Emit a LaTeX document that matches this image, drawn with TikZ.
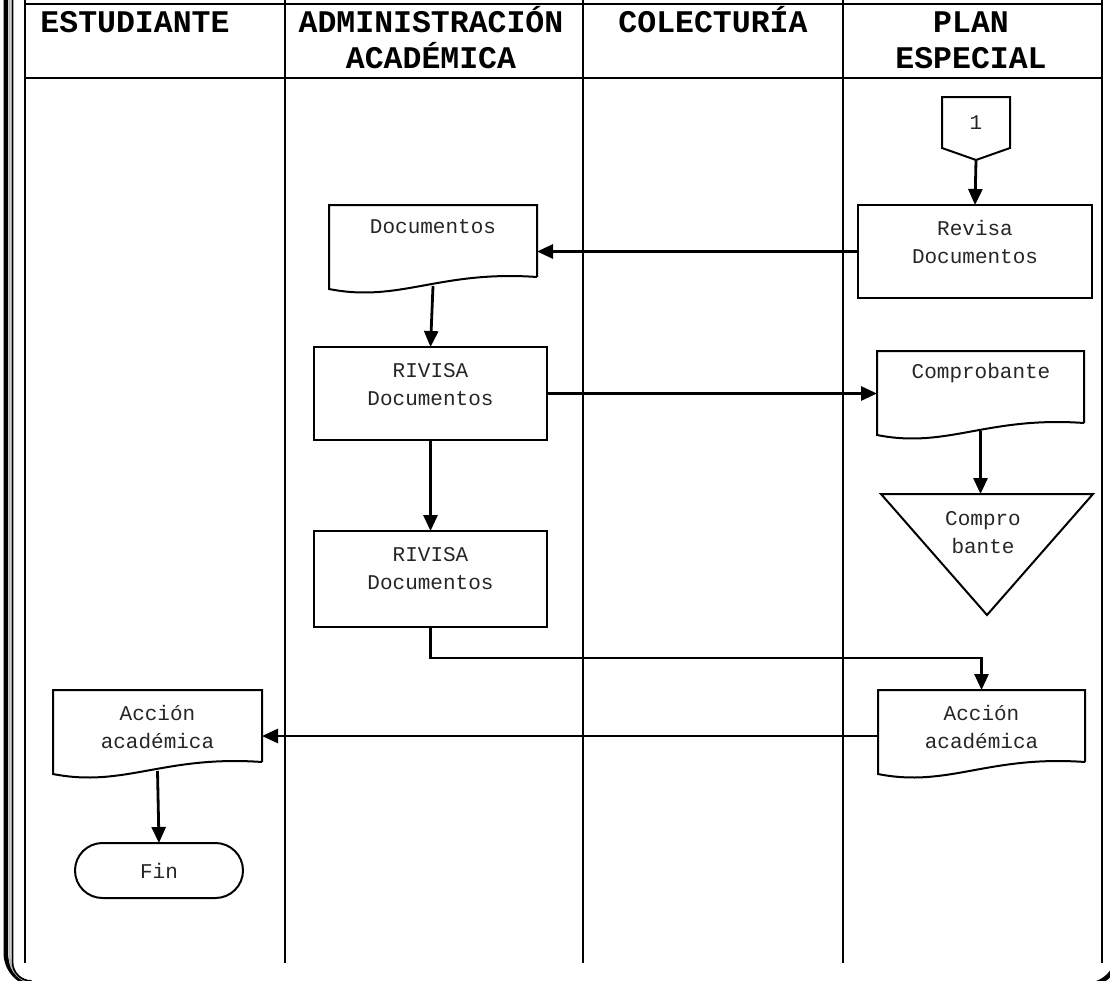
\documentclass[tikz,border=0pt]{standalone}
\usepackage{fontspec}
\newfontfamily\monofont{Liberation Mono}
\usetikzlibrary{arrows.meta,calc}

% centred lines whose baseline is that of the first line
\newcommand\stacklines[1]{\begin{tabular}[t]{@{}c@{}}#1\end{tabular}}

% document symbol with a wavy lower edge, drawn over an area node
\newcommand\docpath[1]{%
  \draw[shapeline] (#1.south east) -- (#1.north east) -- (#1.north west)
    -- ($(#1.south west)+(0,12)$)
    .. controls ($(#1.south west)!0.34!(#1.south east)+(0,26)$)
    and ($(#1.south west)!0.53!(#1.south east)+(0,-7)$) .. (#1.south east);}

\begin{document}
\begin{tikzpicture}[x=1pt,y=-1pt,
  grid/.style={line width=2.6pt},
  shapeline/.style={line width=2pt, line join=miter},
  area/.style={rectangle, draw=none, inner sep=0pt, outer sep=0pt},
  procbox/.style={area, draw, line width=2pt},
  head/.style={anchor=base, inner sep=0pt,
    font=\monofont\bfseries\fontsize{31.5}{36}\selectfont},
  body/.style={anchor=base, inner sep=0pt,
    font=\monofont\fontsize{21}{28}\selectfont, text=black!85},
  arr/.style={line width=2.8pt, -{Triangle[length=16pt,width=14pt]}}]

\useasboundingbox (0,0) rectangle (1110,980);

% page border: the lower edge runs just below the page, only its corners show
\begin{scope}
  \clip (0,0) rectangle (1110,980);
  \draw[line width=4.5pt] (5.8,-40) -- (5.8,953)
    arc[start angle=180, end angle=270, radius=32pt];
  \draw[line width=4.5pt] (1086,985)
    arc[start angle=270, end angle=360, radius=32pt] -- (1118,-40);
  \draw[line width=2pt, gray!55] (9.6,-40) -- (9.6,957)
    arc[start angle=180, end angle=270, radius=26pt];
  \draw[line width=1.7pt] (12.5,-40) -- (12.5,962)
    arc[start angle=180, end angle=270, radius=19pt];
\end{scope}

% swimlane table
\draw[grid] (25,4) -- (1102,4);
\draw[grid] (25,78) -- (1102,78);
\foreach \x in {25,285,583,843,1102}
  \draw[grid] (\x,-2) -- (\x,963);

% lane headings
\node[head] (hEst) at (135,32) {ESTUDIANTE};
\node[head] (hAdm) at (431,32) {\stacklines{ADMINISTRACIÓN\\ACADÉMICA}};
\node[head] (hCol) at (713,32) {COLECTURÍA};
\node[head] (hPlan) at (971,32) {\stacklines{PLAN\\ESPECIAL}};

% off-page connector
\node[area, minimum width=68pt, minimum height=51pt,
      font=\monofont\fontsize{21}{28}\selectfont, text=black!85] (op1) at (976,122.5) {1};
\coordinate (op1tip) at ($(op1.south)+(0,12)$);
\draw[shapeline] (op1.north west) -- (op1.north east) -- (op1.south east)
  -- (op1tip) -- (op1.south west) -- cycle;

% process boxes
\node[procbox, minimum width=234pt, minimum height=93pt] (rev) at (975,251.5) {};
\node[body] (revT) at (975,235) {\stacklines{Revisa\\Documentos}};

\node[procbox, minimum width=233pt, minimum height=93pt] (riv1) at (430.5,393.5) {};
\node[body] (riv1T) at (430.5,377) {\stacklines{RIVISA\\Documentos}};

\node[procbox, minimum width=233pt, minimum height=96pt] (riv2) at (430.5,579) {};
\node[body] (riv2T) at (430.5,561) {\stacklines{RIVISA\\Documentos}};

% documents
\node[area, minimum width=208pt, minimum height=72pt] (doc1) at (433,241) {};
\docpath{doc1}
\node[body] (doc1T) at (433,233) {Documentos};

\node[area, minimum width=207pt, minimum height=72pt] (cmp) at (980.5,387) {};
\docpath{cmp}
\node[body] (cmpT) at (981,378) {Comprobante};

\node[area, minimum width=207pt, minimum height=72pt] (acc2) at (981.5,726) {};
\docpath{acc2}
\node[body] (acc2T) at (981.5,720) {\stacklines{Acción\\académica}};

\node[area, minimum width=209pt, minimum height=72pt] (acc1) at (157.5,726) {};
\docpath{acc1}
\node[body] (acc1T) at (157.5,720) {\stacklines{Acción\\académica}};

% archive triangle
\node[area, minimum width=212pt, minimum height=121pt] (tri) at (987,554.5) {};
\draw[shapeline] (tri.north west) -- (tri.north east) -- (tri.south) -- cycle;
\node[body] (triT) at (983,525) {\stacklines{Compro\\bante}};

% terminator
\node[procbox, minimum width=168pt, minimum height=55pt, rounded corners=27.5pt,
      font=\monofont\fontsize{21}{28}\selectfont, text=black!85] (fin) at (159,870.5) {Fin};

% connectors
\draw[arr] (op1tip) -- (rev.north);
\draw[arr] (rev.west) -- (rev.west -| doc1.east);
\draw[arr] ([yshift=-9pt]doc1.south) -- (riv1.north);
\draw[arr] (riv1.east) -- (riv1.east -| cmp.west);
\draw[arr] ([yshift=-8pt]cmp.south) -- (cmp.south |- tri.north);
\draw[arr] (riv1.south) -- (riv2.north);
\draw[arr] (riv2.south) -- ++(0,31) -| (acc2.north);
\draw[arr] ([yshift=-10pt]acc2.west) -- ([yshift=-10pt]acc2.west -| acc1.east);
\draw[arr] ([yshift=-9pt]acc1.south) -- (fin.north);
\end{tikzpicture}
\end{document}
